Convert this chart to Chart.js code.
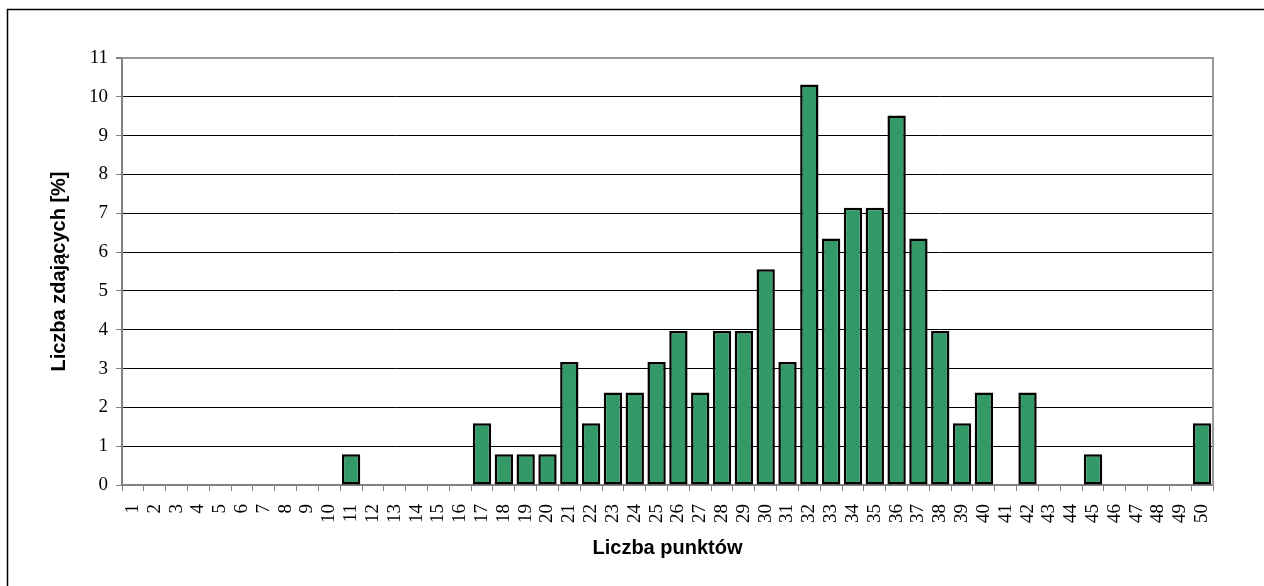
<!DOCTYPE html>
<html lang="pl">
<head>
<meta charset="utf-8">
<title>Liczba zdających</title>
<script src="https://cdn.jsdelivr.net/npm/chart.js@4.4.1/dist/chart.umd.min.js"></script>
<style>
    html, body { margin: 0; padding: 0; background: #fff; }
    #kontener { width: 1264px; height: 586px; position: relative; }
</style>
</head>
<body>
<div id="kontener"><canvas id="wykres"></canvas></div>
<script>
// Dane wykresu
const punkty = ['1','2','3','4','5','6','7','8','9','10',
    '11','12','13','14','15','16','17','18','19','20',
    '21','22','23','24','25','26','27','28','29','30',
    '31','32','33','34','35','36','37','38','39','40',
    '41','42','43','44','45','46','47','48','49','50'];
const procentZdajacych = [0, 0, 0, 0, 0, 0, 0, 0, 0, 0,
    0.79, 0, 0, 0, 0, 0, 1.59, 0.79, 0.79, 0.79,
    3.17, 1.59, 2.38, 2.38, 3.17, 3.97, 2.38, 3.97, 3.97, 5.56,
    3.17, 10.32, 6.35, 7.14, 7.14, 9.52, 6.35, 3.97, 1.59, 2.38,
    0, 2.38, 0, 0, 0.79, 0, 0, 0, 0, 1.59];
const osY = { min: 0, max: 11, krok: 1 };
const tytulX = 'Liczba punktów';
const tytulY = 'Liczba zdających [%]';

const szary = '#999999';

// 1. Ramka całego wykresu i prawa krawędź obszaru
const ramki = {
    id: 'ramki',
    beforeDraw(chart) {
        const ctx = chart.ctx;
        ctx.save();
        ctx.fillStyle = '#fff';
        ctx.fillRect(0, 0, chart.width, chart.height);
        ctx.strokeStyle = '#000';
        ctx.lineWidth = 1.5;
        ctx.strokeRect(7.5, 9.5, chart.width + 20, chart.height + 20);
        ctx.restore();
    },
    beforeDatasetsDraw(chart) {
        const a = chart.chartArea;
        const ctx = chart.ctx;
        ctx.save();
        ctx.strokeStyle = szary;
        ctx.lineWidth = 2;
        ctx.beginPath();
        ctx.moveTo(a.left, a.top);
        ctx.lineTo(a.right, a.top);
        ctx.lineTo(a.right, a.bottom);
        ctx.stroke();
        ctx.restore();
    }
};

// 2. Wykres słupkowy
new Chart(document.getElementById('wykres'), {
    type: 'bar',
    data: {
        labels: punkty,
        datasets: [{
            data: procentZdajacych,
            backgroundColor: '#339966',
            borderColor: '#000',
            borderWidth: ctx => (ctx.raw ? 2.5 : 0),
            borderSkipped: false,
            barPercentage: 0.84,
            categoryPercentage: 1
        }]
    },
    options: {
        responsive: true,
        maintainAspectRatio: false,
        animation: false,
        layout: { padding: { top: 58, right: 51, left: 0, bottom: 0 } },
        plugins: { legend: { display: false }, tooltip: { enabled: false } },
        scales: {
            x: {
                offset: true,
                grid: { display: true, drawOnChartArea: false, offset: true, color: '#808080', tickLength: 6 },
                border: { color: '#808080', width: 2 },
                ticks: {
                    autoSkip: false, minRotation: 90, maxRotation: 90, padding: 13,
                    color: '#000', font: { family: 'Liberation Serif', size: 19 }
                },
                title: {
                    display: true, text: tytulX, color: '#000',
                    font: { family: 'Liberation Sans', size: 20, weight: 'bold' },
                    padding: { top: 0, bottom: 26 }
                },
                afterFit(scale) { scale.height = 101; }
            },
            y: {
                min: osY.min,
                max: osY.max,
                grid: {
                    color: ctx => (ctx.tick && (ctx.tick.value === osY.min || ctx.tick.value === osY.max) ? szary : '#000'),
                    lineWidth: ctx => (ctx.tick && ctx.tick.value === osY.max ? 2 : 1),
                    tickColor: '#808080',
                    tickLength: 6
                },
                border: { color: '#808080', width: 2 },
                ticks: {
                    stepSize: osY.krok, padding: 8, color: '#000',
                    font: { family: 'Liberation Serif', size: 19 }
                },
                title: {
                    display: true, text: tytulY, color: '#000',
                    font: { family: 'Liberation Sans', size: 20, weight: 'bold' },
                    padding: { top: 47, bottom: 0 }
                },
                afterFit(scale) { scale.width = 122; }
            }
        }
    },
    plugins: [ramki]
});
</script>
</body>
</html>
